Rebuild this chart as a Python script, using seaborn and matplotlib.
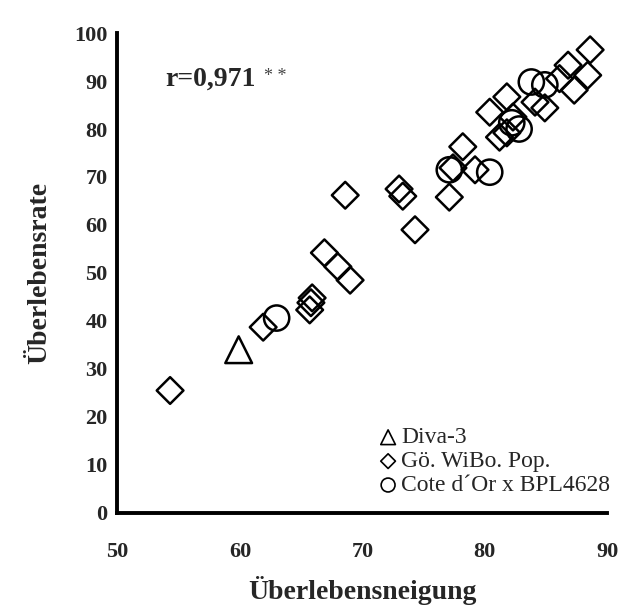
import matplotlib
matplotlib.use("Agg")
import matplotlib.pyplot as plt
import seaborn as sns
import pandas as pd

# Data
diva_x = [59.9]
diva_y = [34.0]

wibo_x = [54.3, 61.9, 65.7, 65.8, 65.9, 66.9, 68.0, 69.0, 68.6, 73.0, 73.3, 74.3,
          77.1, 77.4, 78.2, 79.2, 80.4, 81.8, 81.2, 81.8, 82.3, 84.1, 84.9,
          86.8, 88.6, 88.4, 87.3, 86.1]
wibo_y = [25.5, 38.7, 42.3, 43.8, 44.8, 54.2, 51.3, 48.5, 66.2, 67.5, 66.0, 59.0,
          65.8, 71.9, 76.3, 71.5, 83.5, 86.7, 78.3, 79.2, 82.5, 85.6, 84.4,
          93.3, 96.5, 91.2, 88.1, 90.5]

cote_x = [63.0, 77.1, 80.4, 82.2, 82.8, 83.8, 84.9]
cote_y = [40.6, 71.5, 71.0, 81.3, 80.0, 89.8, 89.2]

labels = ["Diva-3", "Gö. WiBo. Pop.", "Cote d\u00b4Or x BPL4628"]
x_ticks = [50, 60, 70, 80, 90]
y_ticks = [0, 10, 20, 30, 40, 50, 60, 70, 80, 90, 100]
r_text = "r=0,971"

sns.set_style("white")
plt.rcParams['font.family'] = ['Liberation Serif', 'DejaVu Serif']

fig = plt.figure(figsize=(6.28, 6.12), dpi=100)
ax = fig.add_axes([0.187, 0.162, 0.780, 0.784])

groups = [
    (diva_x, diva_y, "^", 370, labels[0]),
    (wibo_x, wibo_y, "D", 185, labels[1]),
    (cote_x, cote_y, "o", 330, labels[2]),
]
for gx, gy, m, s, lab in groups:
    df = pd.DataFrame({"x": gx, "y": gy})
    sns.scatterplot(data=df, x="x", y="y", marker=m, s=s, facecolor="none",
                    edgecolor="black", linewidth=1.8, ax=ax, label=lab, zorder=3)

ax.set_xlim(50, 90)
ax.set_ylim(0, 100)
ax.set_xticks(x_ticks)
ax.set_yticks(y_ticks)
ax.tick_params(axis="both", which="major", direction="out", length=4, width=2,
               labelsize=16, pad=3, color="black")
for lab in ax.get_xticklabels() + ax.get_yticklabels():
    lab.set_fontweight("bold")
ax.tick_params(axis="x", pad=17)

for side in ["top", "right"]:
    ax.spines[side].set_visible(False)
for side in ["left", "bottom"]:
    ax.spines[side].set_linewidth(2.8)
    ax.spines[side].set_color("black")

ax.set_xlabel("Überlebensneigung", fontsize=20, fontweight="bold", labelpad=10)
ax.set_ylabel("Überlebensrate", fontsize=20, fontweight="bold", labelpad=16)

ax.text(53.9, 90.3, r_text, fontsize=20, fontweight="bold", va="center", ha="left")
ax.text(62.0, 91.0, "* *", fontsize=13, va="center", ha="left", color="#444444")

leg = ax.legend(loc="lower right", frameon=False, fontsize=17, markerscale=0.55,
                handletextpad=0.05, labelspacing=0.1, borderaxespad=0.0,
                handlelength=1.0, bbox_to_anchor=(1.025, 0.015))
for h in leg.legend_handles:
    h.set_linewidth(1.2)

fig.savefig("out.png", dpi=100, facecolor="white")
